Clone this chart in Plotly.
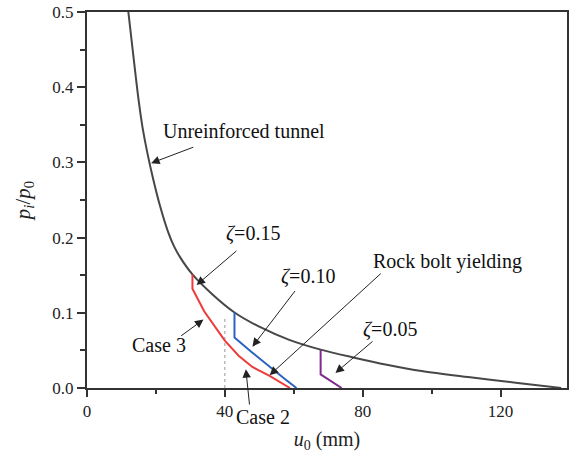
import plotly.graph_objects as go

# Ground reaction curve of the unreinforced tunnel
grc_u = [12.0, 13.3, 15.0, 16.1, 17.5, 19.2, 21.2, 23.5, 25.2, 27.0, 30.6, 36.5, 42.8, 50.0,
         58.7, 67.8, 77.9, 87.0, 97.1, 110.6, 125.0, 137.6]
grc_p = [0.500, 0.448, 0.382, 0.347, 0.313, 0.278, 0.242, 0.208, 0.189, 0.174, 0.151, 0.124,
         0.1004, 0.0815, 0.064, 0.051, 0.040, 0.031, 0.0225, 0.0145, 0.0068, 0.0]

# Case 3, zeta = 0.15
c3_u = [30.6, 30.6, 34.0, 40.0, 44.0, 48.0, 53.0, 58.9]
c3_p = [0.151, 0.132, 0.102, 0.063, 0.043, 0.028, 0.016, 0.0]
# Case 2, zeta = 0.10
c2_u = [42.8, 42.8, 48.0, 53.0, 57.7, 60.8]
c2_p = [0.1004, 0.067, 0.047, 0.028, 0.011, 0.0]
# zeta = 0.05
c1_u = [67.8, 67.8, 73.9]
c1_p = [0.051, 0.018, 0.0]

# dotted reference line at u0 = 40 mm
ref_u = [40, 40]
ref_p = [0.0, 0.092]

x_ticks = [0, 40, 80, 120]
y_ticks = [0.0, 0.1, 0.2, 0.3, 0.4, 0.5]

FONT = "Liberation Serif"
fig = go.Figure()
fig.add_trace(go.Scatter(x=ref_u, y=ref_p, mode="lines",
                         line=dict(color="#999999", width=1, dash="dot"), showlegend=False))
fig.add_trace(go.Scatter(x=grc_u, y=grc_p, mode="lines", line_shape="spline",
                         line=dict(color="#474747", width=2, smoothing=0.9), showlegend=False))
fig.add_trace(go.Scatter(x=c3_u, y=c3_p, mode="lines",
                         line=dict(color="#ef3a3a", width=2), showlegend=False))
fig.add_trace(go.Scatter(x=c2_u, y=c2_p, mode="lines",
                         line=dict(color="#2a64c0", width=2), showlegend=False))
fig.add_trace(go.Scatter(x=c1_u, y=c1_p, mode="lines",
                         line=dict(color="#7f2a8f", width=2), showlegend=False))

# labels (text, x, y, yref)
labels = [
    ("Unreinforced tunnel", 45.5, 0.342, "y"),
    ("<i>ζ</i>=0.15", 48.2, 0.206, "y"),
    ("<i>ζ</i>=0.10", 64.0, 0.148, "y"),
    ("Rock bolt yielding", 104.7, 0.168, "y"),
    ("<i>ζ</i>=0.05", 87.9, 0.078, "y"),
    ("Case 3", 20.8, 0.057, "y"),
    ("Case 2", 51.0, -0.078, "paper"),
]
for t, x, y, yr in labels:
    fig.add_annotation(x=x, y=y, xref="x", yref=yr, text=t, showarrow=False,
                       xanchor="center", yanchor="middle",
                       font=dict(family=FONT, size=20, color="#111111"))

# arrows: (head_x, head_y, tail_x, tail_y)
arrows = [
    (18.6, 0.299, 31.3, 0.321),
    (31.8, 0.137, 43.8, 0.184),
    (48.0, 0.055, 60.7, 0.131),
    (53.0, 0.017, 85.7, 0.154),
    (72.1, 0.020, 83.3, 0.0637),
    (33.8, 0.091, 26.9, 0.068),
    (46.1, 0.025, 47.2, -0.024),
]
for hx, hy, tx, ty in arrows:
    fig.add_annotation(x=hx, y=hy, ax=tx, ay=ty, xref="x", yref="y", axref="x", ayref="y",
                       text="", showarrow=True, arrowhead=2, arrowsize=1.7, arrowwidth=1,
                       arrowcolor="#222222", standoff=0, startstandoff=0)

fig.update_layout(
    width=572, height=453,
    margin=dict(l=87, r=3, t=11, b=65),
    paper_bgcolor="white", plot_bgcolor="white",
    font=dict(family=FONT, size=17, color="#222222"),
    xaxis=dict(range=[0, 139.3], tickvals=x_ticks, ticks="outside", ticklen=7, tickwidth=1.5,
               tickcolor="#333333", showline=True, linewidth=2, linecolor="#333333", mirror=True,
               showgrid=False, zeroline=False,
               minor=dict(tickvals=[20, 60, 100], ticks="outside", ticklen=4, tickwidth=1.5,
                          tickcolor="#333333"),
               tickfont=dict(family=FONT, size=17),
               title=dict(text="<i>u</i><sub>0</sub> (mm)", font=dict(family=FONT, size=20),
                          standoff=12)),
    yaxis=dict(range=[0, 0.5], tickvals=y_ticks, tickformat=".1f", ticks="outside", ticklen=8,
               tickwidth=1.5, tickcolor="#333333", showline=True, linewidth=2, linecolor="#333333",
               mirror=True, showgrid=False, zeroline=False,
               minor=dict(tickvals=[0.05, 0.15, 0.25, 0.35, 0.45], ticks="outside", ticklen=5,
                          tickwidth=1.5, tickcolor="#333333"),
               tickfont=dict(family=FONT, size=17),
               title=dict(text="<i>p<sub>i</sub></i>/<i>p</i><sub>0</sub>",
                          font=dict(family=FONT, size=21), standoff=16)),
)

fig.write_html("out.html")
